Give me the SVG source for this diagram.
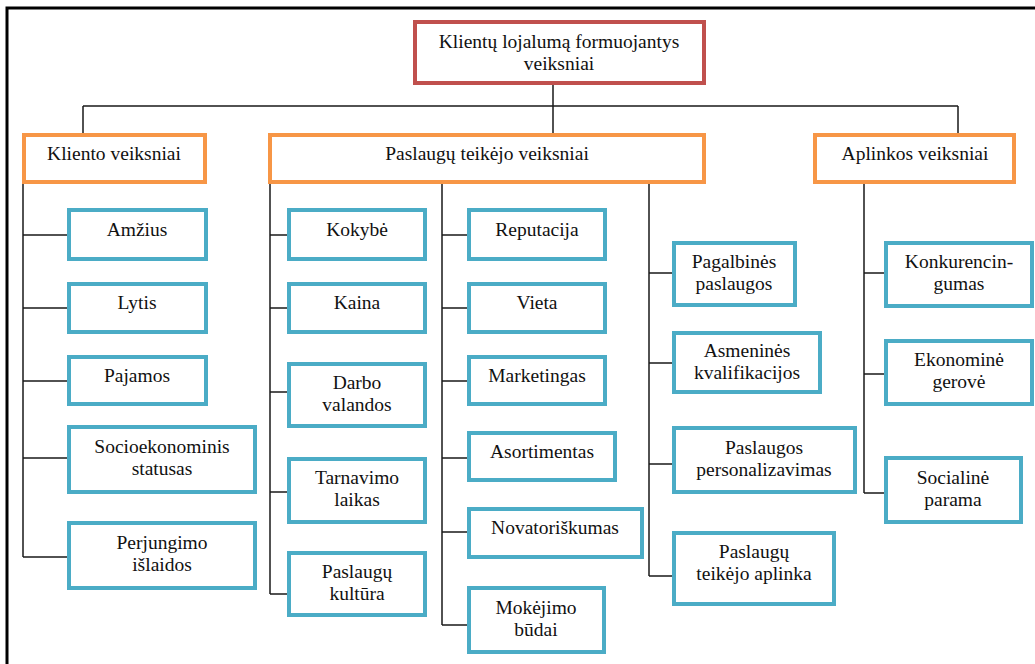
<svg xmlns="http://www.w3.org/2000/svg" width="1035" height="664" viewBox="0 0 1035 664">
  <style>
    .frame { fill: none; stroke: #000; stroke-width: 3; }
    .link { fill: none; stroke: #1a1a1a; stroke-width: 1.5; }
    .root { fill: #fff; stroke: #C0504D; stroke-width: 4; }
    .group { fill: #fff; stroke: #F79646; stroke-width: 4; }
    .leaf { fill: #fff; stroke: #4BACC6; stroke-width: 4; }
    .lbl { font-size: 19.5px; fill: #111; text-anchor: middle; }
  </style>
  <rect width="1035" height="664" fill="#fff"/>
  <path class="frame" d="M7,664 V8 H1035"/>

  <!-- connectors -->
  <g id="connectors">
    <path class="link" d="M553,84 V135 M83,106 H958 M83,106 V135 M958,106 V135"/>
    <!-- client factors -->
    <path class="link" d="M23,183 V557 M23,235 H68 M23,308 H68 M23,381 H68 M23,458 H68 M23,557 H68"/>
    <!-- provider factors, column 1 -->
    <path class="link" d="M270,183 V594 M270,235 H288 M270,308 H288 M270,392 H288 M270,492 H288 M270,594 H288"/>
    <!-- provider factors, column 2 -->
    <path class="link" d="M442,183 V625 M442,235 H468 M442,308 H468 M442,381 H468 M442,458 H468 M442,532 H468 M442,625 H468"/>
    <!-- provider factors, column 3 -->
    <path class="link" d="M649,183 V576 M649,273 H673 M649,363 H673 M649,464 H673 M649,576 H673"/>
    <!-- environment factors -->
    <path class="link" d="M864,183 V493 M864,273 H886 M864,374 H886 M864,493 H886"/>
  </g>

  <g class="lbl" font-family="'Liberation Serif', 'Times New Roman', Times, Tinos, 'Noto Serif', 'DejaVu Serif', FreeSerif, serif">
  <!-- root -->
  <g id="root">
    <rect class="root" x="415" y="22" width="289" height="61"/>
    <text x="559" y="48">Klientų lojalumą formuojantys</text>
    <text x="559" y="70">veiksniai</text>
  </g>

  <!-- groups -->
  <g id="kliento-veiksniai">
    <rect class="group" x="24" y="135" width="181" height="47"/>
    <text x="114" y="160">Kliento veiksniai</text>
  </g>
  <g id="paslaugu-teikejo-veiksniai">
    <rect class="group" x="270" y="135" width="434" height="47"/>
    <text x="487" y="160">Paslaugų teikėjo veiksniai</text>
  </g>
  <g id="aplinkos-veiksniai">
    <rect class="group" x="815" y="135" width="199" height="47"/>
    <text x="915" y="160">Aplinkos veiksniai</text>
  </g>

  <!-- client leaves -->
  <g id="amzius">
    <rect class="leaf" x="69" y="210" width="137" height="49"/>
    <text x="137" y="236">Amžius</text>
  </g>
  <g id="lytis">
    <rect class="leaf" x="69" y="284" width="137" height="48"/>
    <text x="137" y="309">Lytis</text>
  </g>
  <g id="pajamos">
    <rect class="leaf" x="69" y="357" width="137" height="47"/>
    <text x="137" y="382">Pajamos</text>
  </g>
  <g id="socioekonominis">
    <rect class="leaf" x="69" y="427" width="186" height="65"/>
    <text x="162" y="453">Socioekonominis</text>
    <text x="162" y="475">statusas</text>
  </g>
  <g id="perjungimo">
    <rect class="leaf" x="69" y="523" width="186" height="65"/>
    <text x="162" y="549">Perjungimo</text>
    <text x="162" y="571">išlaidos</text>
  </g>

  <!-- provider leaves, column 1 -->
  <g id="kokybe">
    <rect class="leaf" x="289" y="210" width="136" height="49"/>
    <text x="357" y="236">Kokybė</text>
  </g>
  <g id="kaina">
    <rect class="leaf" x="289" y="284" width="136" height="48"/>
    <text x="357" y="309">Kaina</text>
  </g>
  <g id="darbo-valandos">
    <rect class="leaf" x="289" y="364" width="136" height="62"/>
    <text x="357" y="389">Darbo</text>
    <text x="357" y="411">valandos</text>
  </g>
  <g id="tarnavimo-laikas">
    <rect class="leaf" x="289" y="459" width="136" height="63"/>
    <text x="357" y="484">Tarnavimo</text>
    <text x="357" y="506">laikas</text>
  </g>
  <g id="paslaugu-kultura">
    <rect class="leaf" x="289" y="553" width="136" height="62"/>
    <text x="357" y="578">Paslaugų</text>
    <text x="357" y="600">kultūra</text>
  </g>

  <!-- provider leaves, column 2 -->
  <g id="reputacija">
    <rect class="leaf" x="469" y="210" width="136" height="49"/>
    <text x="537" y="236">Reputacija</text>
  </g>
  <g id="vieta">
    <rect class="leaf" x="469" y="284" width="136" height="48"/>
    <text x="537" y="309">Vieta</text>
  </g>
  <g id="marketingas">
    <rect class="leaf" x="469" y="357" width="136" height="47"/>
    <text x="537" y="382">Marketingas</text>
  </g>
  <g id="asortimentas">
    <rect class="leaf" x="469" y="433" width="146" height="47"/>
    <text x="542" y="458">Asortimentas</text>
  </g>
  <g id="novatoriskumas">
    <rect class="leaf" x="469" y="509" width="173" height="48"/>
    <text x="555" y="534">Novatoriškumas</text>
  </g>
  <g id="mokejimo-budai">
    <rect class="leaf" x="469" y="588" width="135" height="64"/>
    <text x="536" y="614">Mokėjimo</text>
    <text x="536" y="636">būdai</text>
  </g>

  <!-- provider leaves, column 3 -->
  <g id="pagalbines-paslaugos">
    <rect class="leaf" x="674" y="243" width="121" height="62"/>
    <text x="734" y="268">Pagalbinės</text>
    <text x="734" y="290">paslaugos</text>
  </g>
  <g id="asmenines-kvalifikacijos">
    <rect class="leaf" x="674" y="333" width="146" height="59"/>
    <text x="747" y="357">Asmeninės</text>
    <text x="747" y="379">kvalifikacijos</text>
  </g>
  <g id="paslaugos-personalizavimas">
    <rect class="leaf" x="674" y="428" width="181" height="64"/>
    <text x="764" y="454">Paslaugos</text>
    <text x="764" y="476">personalizavimas</text>
  </g>
  <g id="paslaugu-teikejo-aplinka">
    <rect class="leaf" x="674" y="533" width="160" height="71"/>
    <text x="754" y="558">Paslaugų</text>
    <text x="754" y="580">teikėjo aplinka</text>
  </g>

  <!-- environment leaves -->
  <g id="konkurencingumas">
    <rect class="leaf" x="886" y="243" width="146" height="63"/>
    <text x="959" y="268">Konkurencin-</text>
    <text x="959" y="290">gumas</text>
  </g>
  <g id="ekonomine-gerove">
    <rect class="leaf" x="886" y="341" width="146" height="63"/>
    <text x="959" y="366">Ekonominė</text>
    <text x="959" y="388">gerovė</text>
  </g>
  <g id="socialine-parama">
    <rect class="leaf" x="886" y="458" width="135" height="64"/>
    <text x="953" y="484">Socialinė</text>
    <text x="953" y="506">parama</text>
  </g>
  </g>
</svg>
